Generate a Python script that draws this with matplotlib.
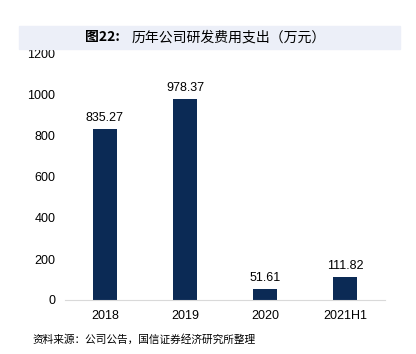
import matplotlib.pyplot as plt
from matplotlib.patches import Rectangle

years = ['2018', '2019', '2020', '2021H1']
rd_spend = [835.27, 978.37, 51.61, 111.82]
yticks = [0, 200, 400, 600, 800, 1000, 1200]

plt.rcParams['font.family'] = ['Liberation Sans', 'Noto Sans CJK SC', 'DejaVu Sans']
cjk = ['Noto Sans CJK SC', 'DejaVu Sans']

fig = plt.figure(figsize=(4.16, 3.54), dpi=100)
ax = fig.add_axes([65/416, 1 - 300/354, 320/416, 246/354])

x = range(len(years))
bars = ax.bar(x, rd_spend, width=0.31, color='#0b2a55')
for b, v in zip(bars, rd_spend):
    ax.text(b.get_x() + b.get_width()/2, v + 25, f'{v:.2f}', ha='center', va='bottom', fontsize=9)

ax.set_xlim(-0.5, 3.5)
ax.set_ylim(0, 1200)
ax.set_yticks(yticks)
ax.set_xticks(list(x))
ax.set_xticklabels(years)
ax.tick_params(axis='both', length=0, labelsize=9)
ax.tick_params(axis='y', pad=7)
ax.tick_params(axis='x', pad=7)
for s in ['top', 'right', 'left']:
    ax.spines[s].set_visible(False)
ax.spines['bottom'].set_color('#d9d9d9')

# title band
fig.patches.append(Rectangle((19/416, 1 - 49/354), 381/416, 23/354, transform=fig.transFigure,
                             color='#eceff8', zorder=0))
fig.text(85/416, 1 - 37.5/354, '图22:', ha='left', va='center',
         fontsize=10, fontweight='bold', family=cjk)
fig.text(132/416, 1 - 37.5/354, '历年公司研发费用支出（万元）', ha='left', va='center',
         fontsize=10, family=cjk)

fig.text(32/416, 1 - 339/354, '资料来源：公司公告，国信证券经济研究所整理', ha='left', va='center',
         fontsize=7.7, family=cjk)

fig.savefig('out.png', dpi=100)
